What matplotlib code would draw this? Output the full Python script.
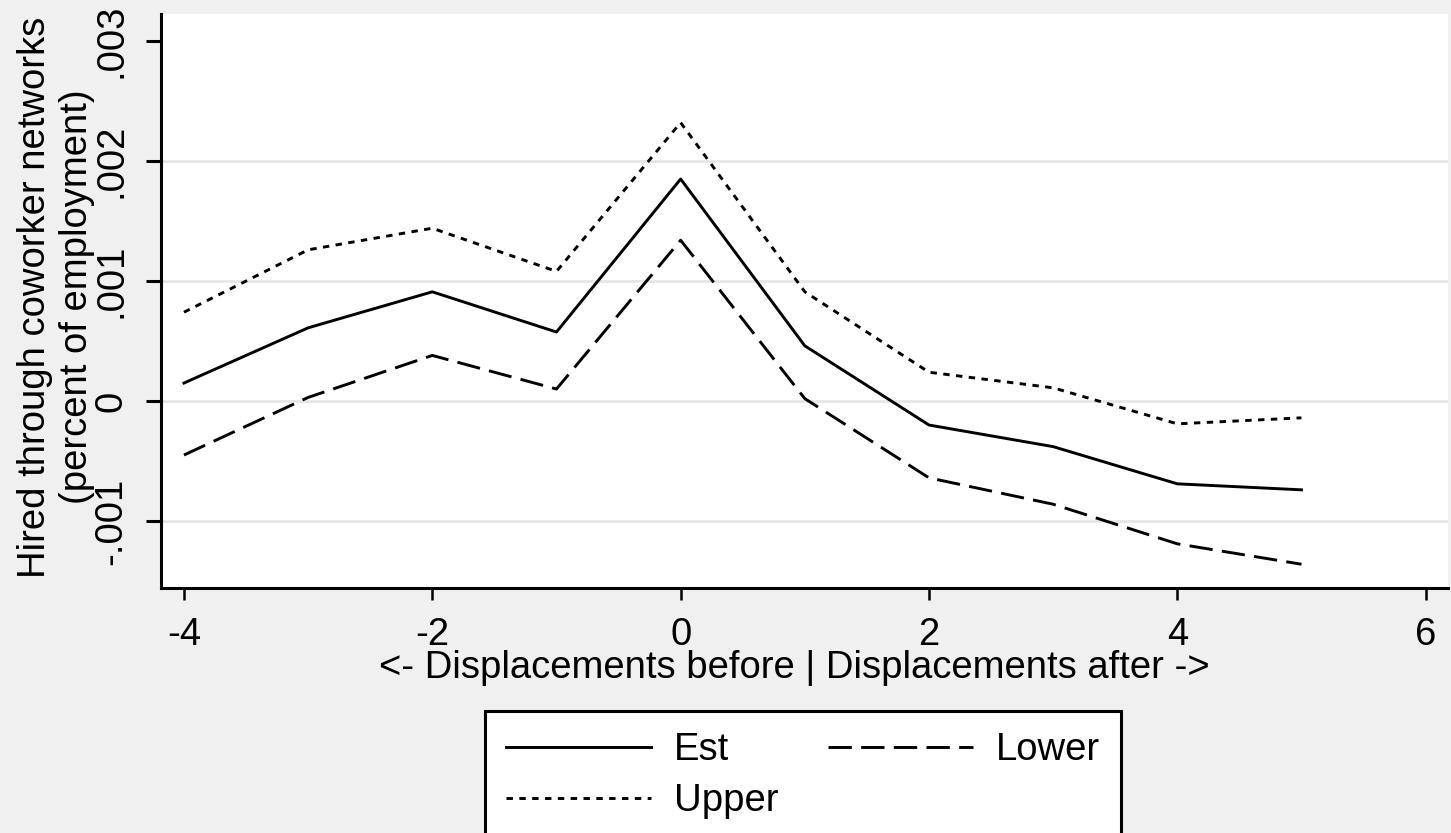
import matplotlib
matplotlib.use("Agg")
import matplotlib.pyplot as plt

# Event-time coefficients with confidence bounds
periods = [-4, -3, -2, -1, 0, 1, 2, 3, 4, 5]
est = [0.00015, 0.00061, 0.00091, 0.000575, 0.00185, 0.00046, -0.00020, -0.00038, -0.00069, -0.00074]
lower = [-0.00045, 0.00003, 0.00038, 0.00010, 0.00134, 0.00002, -0.00064, -0.00086, -0.00119, -0.00136]
upper = [0.00074, 0.00126, 0.00144, 0.00108, 0.00232, 0.00091, 0.00024, 0.00011, -0.00019, -0.00014]

x_ticks = [-4, -2, 0, 2, 4, 6]
x_tick_labels = ["-4", "-2", "0", "2", "4", "6"]
y_ticks = [-0.001, 0, 0.001, 0.002, 0.003]
y_tick_labels = ["-.001", "0", ".001", ".002", ".003"]
grid_values = [-0.001, 0, 0.001, 0.002]

W, H = 1451, 833
plt.rcParams["font.family"] = ["Liberation Sans", "DejaVu Sans"]
FS = 27.5
BG = "#f0f0f0"

fig = plt.figure(figsize=(W / 100, H / 100), dpi=100, facecolor=BG)
ax = fig.add_axes([161 / W, 1 - 588 / H, (1448 - 161) / W, (588 - 14) / H])
ax.set_facecolor("white")

for g in grid_values:
    ax.axhline(g, color="#e6e6e6", lw=2.0, zorder=1)

lw = 2.1
l_est, = ax.plot(periods, est, color="black", lw=lw, label="Est", zorder=3)
l_low, = ax.plot(periods, lower, color="black", lw=lw, linestyle=(0, (8, 3.2)), label="Lower", zorder=3)
l_up, = ax.plot(periods, upper, color="black", lw=lw, linestyle=(0, (2.2, 2.2)), label="Upper", zorder=3)

ax.set_xlim(-4.185, 6.18)
ax.set_ylim(-0.001558, 0.003225)

ax.set_xticks(x_ticks)
ax.set_xticklabels(x_tick_labels, fontsize=FS)
ax.set_yticks(y_ticks)
ax.set_yticklabels(y_tick_labels, fontsize=FS, rotation=90, va="center")

for side in ("top", "right"):
    ax.spines[side].set_visible(False)
for side in ("left", "bottom"):
    ax.spines[side].set_linewidth(2.2)
    ax.spines[side].set_color("black")

ax.tick_params(axis="y", length=10.8, width=2.2, pad=12, colors="black")
ax.tick_params(axis="x", length=8.6, width=1.8, pad=12, colors="black")

fig.text(794 / W, 1 - 668 / H, "<- Displacements before | Displacements after ->",
         fontsize=FS, ha="center", va="center")
fig.text(35 / W, 1 - 297 / H, "Hired through coworker networks",
         fontsize=FS, rotation=90, ha="center", va="center")
fig.text(77 / W, 1 - 297 / H, "(percent of employment)",
         fontsize=FS, rotation=90, ha="center", va="center")

# column-major fill: first column Est/Upper, second column Lower
leg = fig.legend([l_est, l_up, l_low], ["Est", "Upper", "Lower"],
                 loc="upper left", bbox_to_anchor=(485 / W, 1 - 711 / H),
                 ncol=2, fontsize=FS, frameon=True, fancybox=False,
                 handlelength=3.8, handletextpad=0.6, columnspacing=1.3,
                 borderpad=0.55, labelspacing=0.4, borderaxespad=0)
frame = leg.get_frame()
frame.set_edgecolor("black")
frame.set_linewidth(2.2)
frame.set_facecolor("white")
frame.set_alpha(1)

fig.savefig("out.png", dpi=100, facecolor=BG)
